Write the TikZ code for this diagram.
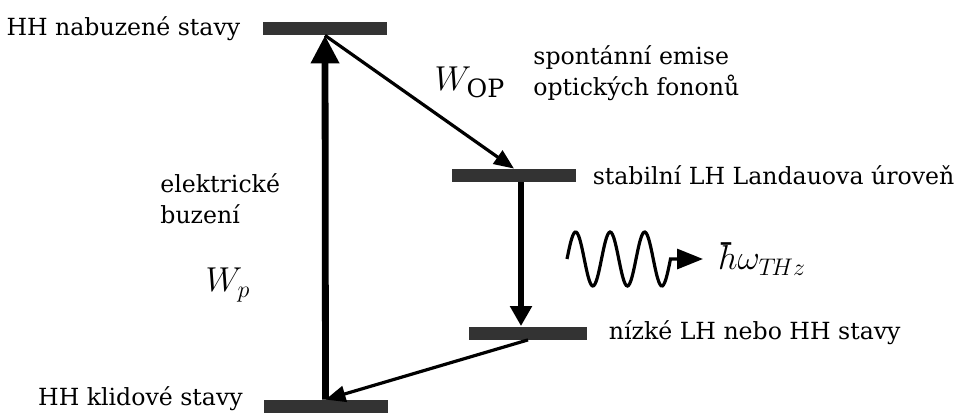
\documentclass[tikz,border=0pt]{standalone}
\usepackage{fontspec}
\setmainfont{DejaVu Serif}
\usepackage{amsmath}
\usetikzlibrary{positioning,arrows.meta}

\tikzset{
  level/.style={fill=black!80, minimum width=62pt, minimum height=6.5pt, inner sep=0pt},
  lbl/.style={font=\fontsize{11.8}{15.5}\selectfont, inner sep=0pt},
  rate/.style={font=\fontsize{18}{20}\selectfont, inner sep=0pt},
  pump/.style={line width=3.4pt, -{Triangle[length=14pt,width=13.5pt]}},
  decay/.style={line width=1.6pt, -{Triangle[length=10pt,width=8pt]}},
}

\begin{document}
\begin{tikzpicture}[x=0.5pt,y=-0.5pt]
    \useasboundingbox (0,0) rectangle (977,417);
    % hladiny
    \node[level] (nabuz) at (325,28.5) {};
    \node[level] (stab) at (514,175.5) {};
    \node[level, minimum width=59pt] (nizke) at (528,333) {};
    \node[level] (klid) at (325.5,406.5) {};
    % popisky hladin
    \node[lbl, left=11pt of nabuz] (tnabuz) {HH nabuzené stavy};
    \node[lbl, left=10pt of klid, yshift=4pt] (tklid) {HH klidové stavy};
    \node[lbl, right=8pt of stab] (tstab) {stabilní LH Landauova úroveň};
    \node[lbl, right=10.5pt of nizke] (tnizke) {nízké LH nebo HH stavy};
    \node[lbl, align=left, anchor=west] (temise) at (533,73) {spontánní emise\\optických fononů};
    \node[lbl, align=left, anchor=west] (tbuz) at (160,199) {elektrické\\buzení};
    \node[rate] (wp) at (228,285) {$W_p$};
    \node[rate] (wop) at (470,82) {$W_{\mathrm{OP}}$};
    % prechody
    \draw[pump] (klid.north) -- (nabuz.south);
    \draw[decay] (nabuz.south) -- (stab.north);
    \draw[pump, -{Triangle[length=10pt,width=10.5pt]}] ([xshift=3.5pt]stab.south) -- ([xshift=-3.5pt]nizke.north);
    \draw[decay] (nizke.south) -- (klid.north);
    % foton
    \coordinate (wstart) at (567,259);
    \coordinate (wend) at (703,259);
    \draw[line width=1.6pt, -{Triangle[length=13pt,width=10pt]}]
        plot[domain=0:3, samples=90, smooth] ({567+34.5*\x},{259-27*sin(360*\x)}) -- (wend);
    \node[rate, right=7pt of wend] (thz) {$\hbar\omega_{T\!Hz}$};
\end{tikzpicture}
\end{document}
